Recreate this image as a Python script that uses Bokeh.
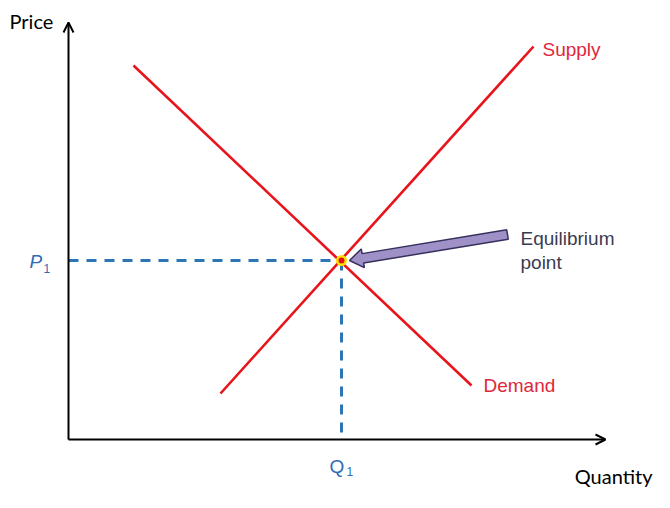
import numpy as np
from bokeh.plotting import figure
from bokeh.models import Range1d, Arrow, OpenHead
from bokeh.core.properties import value
from bokeh.embed import file_html
from bokeh.resources import INLINE

# ---- data (quantity / price units) ----
supply_q = [3.04, 9.30]
supply_p = [0.92, 7.86]
demand_q = [1.30, 8.06]
demand_p = [7.48, 1.08]
eq_q = 5.46
eq_p = 3.58
q_axis_max = 10.74
p_axis_max = 8.34
callout_tail = (8.78, 4.10)
callout_tip = (5.62, 3.58)

RED = "#e8141c"
RED_TXT = "#e2263a"
BLUE = "#2e75b6"
BLUE_TXT = "#2e6db4"
DARK = "#3b3b4f"

p = figure(width=654, height=492, output_backend="svg", toolbar_location=None,
           x_range=Range1d(-1.36, 11.72), y_range=Range1d(-1.06, 8.78),
           x_axis_location=None, y_axis_location=None, min_border=0)
p.grid.visible = False
p.outline_line_color = None
p.background_fill_color = "white"

# axes with arrow heads
p.add_layout(Arrow(x_start=0, y_start=0, x_end=q_axis_max, y_end=0,
                   line_color="black", line_width=2,
                   end=OpenHead(size=10, line_width=2, line_color="black")))
p.add_layout(Arrow(x_start=0, y_start=0, x_end=0, y_end=p_axis_max,
                   line_color="black", line_width=2,
                   end=OpenHead(size=10, line_width=2, line_color="black")))

# dashed guides
p.line([0, eq_q], [eq_p, eq_p], line_color=BLUE, line_width=3, line_dash="10 8")
p.line([eq_q, eq_q], [eq_p, 0], line_color=BLUE, line_width=3, line_dash="10 8")

# supply and demand
p.line(supply_q, supply_p, line_color=RED, line_width=2.6)
p.line(demand_q, demand_p, line_color=RED, line_width=2.6)

# callout arrow polygon
tail = np.array(callout_tail)
tip = np.array(callout_tip)
d = tip - tail
u = d / np.hypot(*d)
n = np.array([-u[1], u[0]])
sw, hw, hl = 0.095, 0.19, 0.27
base = tip - u * hl
pts = [tail + n * sw, base + n * sw, base + n * hw, tip,
       base - n * hw, base - n * sw, tail - n * sw]
p.patch([q[0] for q in pts], [q[1] for q in pts], fill_color="#9f90c8",
        line_color="#35315c", line_width=1.5)

# equilibrium point
p.scatter([eq_q], [eq_p], size=11, fill_color="#ffe100", line_color=None)
p.scatter([eq_q], [eq_p], size=6, fill_color="#e2101a", line_color=None)

# labels
p.text([-1.18], [8.38], text=["Price"], text_font=value("Lato"),
       text_font_size="20px", text_color="black", text_baseline="middle")
p.text([11.68], [-0.72], text=["Quantity"], text_font=value("Lato"),
       text_font_size="20px", text_color="black", text_baseline="middle",
       text_align="right")
p.text([9.48], [7.8], text=["Supply"], text_font=value("Liberation Sans"),
       text_font_size="19px", text_color=RED_TXT, text_baseline="middle")
p.text([8.3], [1.08], text=["Demand"], text_font=value("Liberation Sans"),
       text_font_size="19px", text_color=RED_TXT, text_baseline="middle")
p.text([9.04, 9.04], [4.03, 3.55], text=["Equilibrium", "point"],
       text_font=value("Liberation Sans"), text_font_size="19px",
       text_color=DARK, text_baseline="middle")
p.text([-0.78], [3.56], text=["P"], text_font=value("Liberation Sans"),
       text_font_size="19px", text_font_style="italic", text_color=BLUE_TXT,
       text_baseline="middle")
p.text([-0.50], [3.42], text=["1"], text_font=value("Liberation Sans"),
       text_font_size="12px", text_color=BLUE_TXT, text_baseline="middle")
p.text([5.22], [-0.54], text=["Q"], text_font=value("Liberation Sans"),
       text_font_size="19px", text_color=BLUE_TXT, text_baseline="middle")
p.text([5.56], [-0.64], text=["1"], text_font=value("Liberation Sans"),
       text_font_size="12px", text_color=BLUE_TXT, text_baseline="middle")

open("out.html", "w").write(file_html(p, INLINE))
